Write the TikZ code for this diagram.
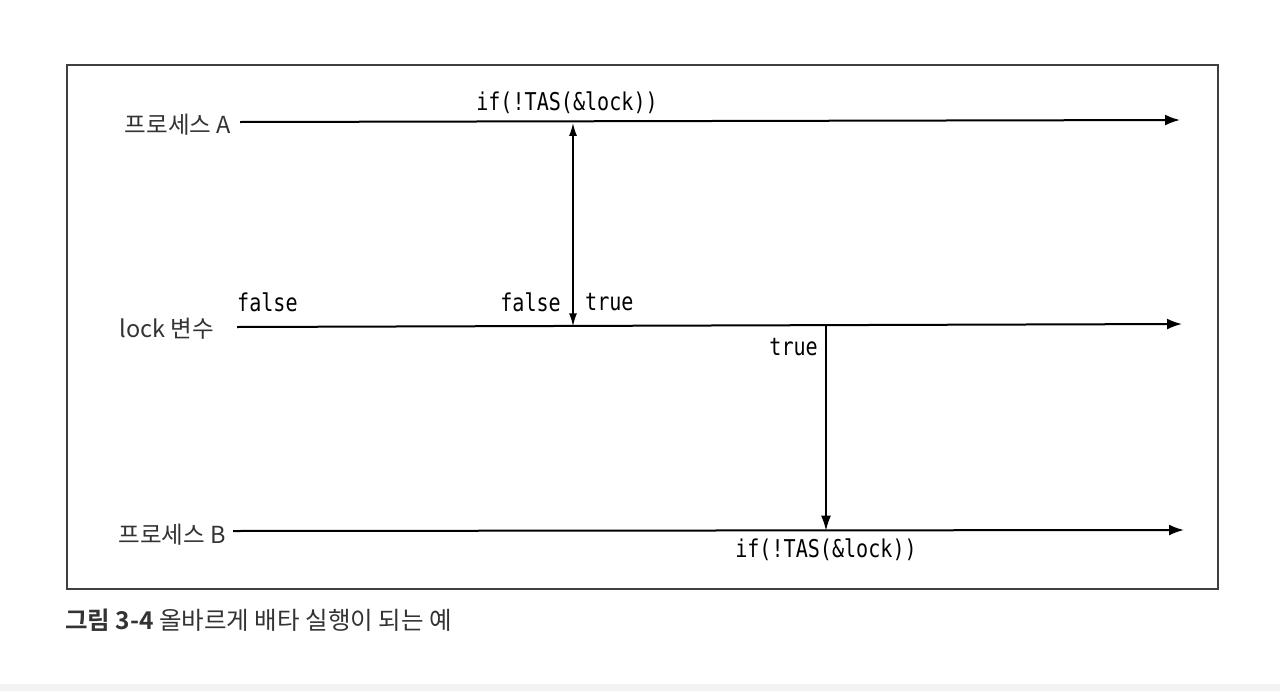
\documentclass[tikz,border=0pt]{standalone}
\usepackage{fontspec}
\newfontfamily\kr{Noto Sans CJK KR}
\newfontfamily\krb{Noto Sans CJK KR}[BoldFont={* Bold}]
\setmonofont{DejaVu Sans Mono}[FakeStretch=0.82]
\usetikzlibrary{arrows.meta}
\begin{document}
\begin{tikzpicture}[x=1pt,y=-1pt,
  lbl/.style={font=\kr\fontsize{23.5}{25}\selectfont, text=black!80, inner sep=0pt},
  code/.style={font=\ttfamily\fontsize{24.5}{26}\selectfont, inner sep=0pt},
  tline/.style={line width=2pt, -{Latex[length=15pt,width=11pt]}},
  vline/.style={line width=1.5pt},
  frame/.style={line width=1.4pt, draw=black!75}]
\useasboundingbox (0,0) rectangle (1280,691);
\fill[white] (0,0) rectangle (1280,691);
\fill[black!5] (0,684) rectangle (1280,691);
\draw[frame] (67,65) rectangle (1218,589);
% labels
\node[lbl, anchor=east] (la) at (231,125) {프로세스 A};
\node[lbl, anchor=east] (ll) at (214,329) {lock 변수};
\node[lbl, anchor=east] (lb) at (226,535) {프로세스 B};
% timeline ends
\coordinate (ae) at (1180,120);
\coordinate (le) at (1182,324);
\coordinate (be) at (1184,530);
\coordinate (as) at (240,122);
\coordinate (ls) at (237,327);
\coordinate (bs) at (233,531);
\draw[tline] (as) -- (ae);
\draw[tline] (ls) -- (le);
\draw[tline] (bs) -- (be);
% interaction points
\coordinate (pa) at (573,122.9);
\coordinate (pl1) at (573,326.3);
\coordinate (pl2) at (826,325.3);
\coordinate (pb) at (826,530.6);
\draw[vline, {Latex[length=13pt,width=8pt]}-{Latex[length=13pt,width=8pt]}] (pl1) -- (pa);
\draw[vline, -{Latex[length=15pt,width=10pt]}] (pl2) -- (pb);
% code labels
\node[code] (ca) at (567,103) {if(!TAS(\&lock))};
\node[code] (cb) at (826,550) {if(!TAS(\&lock))};
\node[code, anchor=west] (f0) at (237,302) {false};
\node[code, anchor=east] (f1) at (561,302) {false};
\node[code, anchor=west] (t1) at (585,302) {true};
\node[code, anchor=east] (t2) at (818,347) {true};
% caption
\node[font=\krb\fontsize{24.5}{26}\selectfont, anchor=west, inner sep=0pt, text=black!80] (cap) at (65,620) {\textbf{그림 3-4} 올바르게 배타 실행이 되는 예};
\end{tikzpicture}
\end{document}
